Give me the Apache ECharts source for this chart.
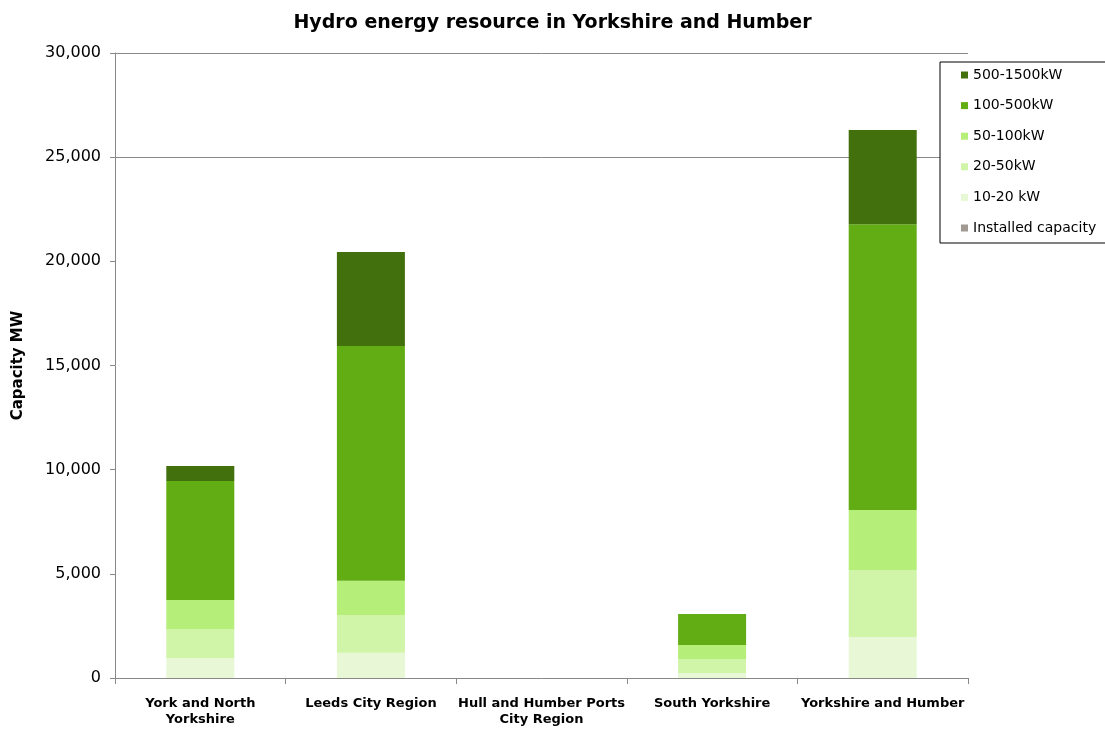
<!DOCTYPE html>
<html lang="en">
<head>
    <meta charset="UTF-8">
    <title>Hydro energy resource</title>
    <script src="https://cdn.jsdelivr.net/npm/echarts@6/dist/echarts.min.js"></script>
    <style>
        body { margin: 0; background: #fff; }
        #main { width: 1105px; height: 731px; }
    </style>
</head>
<body>
<div id="main"></div>
<script>
    // categories and values (MW)
    var regions = ['York and North\nYorkshire', 'Leeds City Region', 'Hull and Humber Ports\nCity Region', 'South Yorkshire', 'Yorkshire and Humber'];
    var band10to20 = [960, 1210, 0, 240, 1970];
    var band20to50 = [1390, 1810, 0, 670, 3210];
    var band50to100 = [1390, 1650, 0, 670, 2880];
    var band100to500 = [5720, 11270, 0, 1490, 13720];
    var band500to1500 = [720, 4510, 0, 0, 4520];
    var installed = [0, 0, 0, 0, 0];

    var chart = echarts.init(document.getElementById('main'));

    function bar(name, data, color) {
        return {
            name: name,
            type: 'bar',
            stack: 'total',
            barWidth: 68,
            data: data,
            itemStyle: { color: color }
        };
    }

    chart.setOption({
        animation: false,
        textStyle: { fontFamily: 'DejaVu Sans, Verdana, sans-serif' },
        title: {
            text: 'Hydro energy resource in Yorkshire and Humber',
            left: 'center',
            top: 9,
            textStyle: { fontSize: 19, fontWeight: 'bold', color: '#000', fontFamily: 'DejaVu Sans' }
        },
        legend: {
            orient: 'vertical',
            left: 940,
            top: 62,
            padding: [6, 80, 8, 21],
            itemWidth: 7,
            itemHeight: 7,
            itemGap: 16.6,
            icon: 'rect',
            borderColor: '#000',
            borderWidth: 1,
            backgroundColor: '#fff',
            textStyle: { fontSize: 14, color: '#000', lineHeight: 14, fontFamily: 'DejaVu Sans' },
            data: ['500-1500kW', '100-500kW', '50-100kW', '20-50kW', '10-20 kW', 'Installed capacity']
        },
        grid: { left: 115, right: 137, top: 53, bottom: 53 },
        xAxis: {
            type: 'category',
            data: regions,
            axisLine: { lineStyle: { color: '#888' } },
            axisTick: { show: true, length: 6, lineStyle: { color: '#888' } },
            axisLabel: { fontSize: 13, fontWeight: 'bold', color: '#000', margin: 18, lineHeight: 16, interval: 0, fontFamily: 'DejaVu Sans' }
        },
        yAxis: {
            type: 'value',
            min: 0,
            max: 30000,
            interval: 5000,
            name: 'Capacity MW',
            nameLocation: 'middle',
            nameGap: 89,
            nameTextStyle: { fontSize: 15, fontWeight: 'bold', color: '#000', fontFamily: 'DejaVu Sans' },
            axisLine: { show: true, lineStyle: { color: '#888' } },
            axisTick: { show: true, length: 5, lineStyle: { color: '#888' } },
            axisLabel: {
                fontSize: 16, color: '#000', margin: 14, fontFamily: 'DejaVu Sans',
                formatter: function (v) { return v.toLocaleString('en-US'); }
            },
            splitLine: {
                show: true,
                lineStyle: { color: ['transparent', 'transparent', 'transparent', 'transparent', 'transparent', '#888', '#888'] }
            }
        },
        series: [
            bar('10-20 kW', band10to20, '#e8f8d6'),
            bar('20-50kW', band20to50, '#d0f4a8'),
            bar('50-100kW', band50to100, '#b5ee78'),
            bar('100-500kW', band100to500, '#63ad14'),
            bar('500-1500kW', band500to1500, '#41700d'),
            bar('Installed capacity', installed, '#a09a92')
        ]
    });
</script>
</body>
</html>
